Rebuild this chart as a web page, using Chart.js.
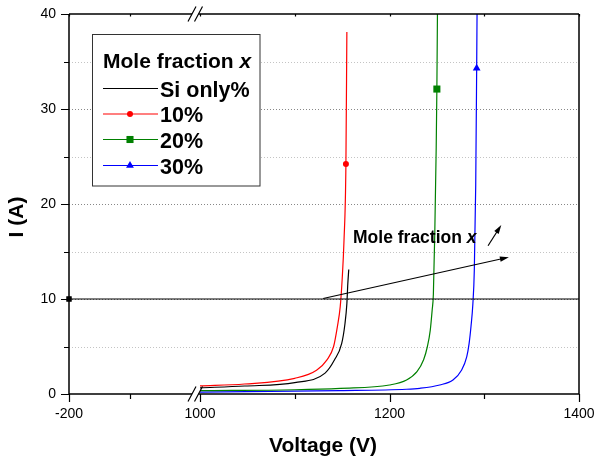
<!DOCTYPE html>
<html>
<head>
<meta charset="utf-8">
<script src="https://cdn.jsdelivr.net/npm/chart.js@4.4.0/dist/chart.umd.min.js"></script>
<style>
  html, body { margin: 0; padding: 0; background: #fff; }
</style>
</head>
<body>
<canvas id="chart" width="596" height="462"></canvas>
<script>
// Curves (Voltage in V, current in A)
const siVoltage = [1000, 1047, 1100, 1132, 1142, 1149.5, 1153, 1155, 1156, 1157];
const siCurrent = [0.65, 0.84, 1.2, 2.2, 3.6, 5.3, 7.4, 9.5, 11.6, 13.1];

const x10Voltage = [1000, 1047, 1100, 1123, 1134, 1141, 1145, 1148, 1150, 1152, 1154, 1155];
const x10Current = [0.85, 1.05, 1.65, 2.5, 3.6, 5.0, 7.1, 9.2, 12.0, 16.2, 24.2, 38.1];

const x20Voltage = [1000, 1100, 1148, 1200, 1218, 1229, 1236, 1240, 1243, 1245, 1246.3, 1247.8, 1249.3, 1250, 1250.6];
const x20Current = [0.35, 0.45, 0.6, 0.95, 1.47, 2.35, 3.6, 5.0, 6.7, 8.8, 10.5, 17, 26, 32.1, 40];

const x30Voltage = [1000, 1148, 1218, 1232, 1253, 1267, 1276, 1281.5, 1284, 1286, 1288, 1289.5, 1291, 1292, 1292.4];
const x30Current = [0.2, 0.35, 0.5, 0.6, 0.95, 1.47, 2.5, 3.9, 5.3, 7.1, 9.5, 13, 22, 34.3, 40];

// one symbol per curve
const markerVoltage = [1154, 1250, 1292];
const markerCurrent = [24.2, 32.1, 34.3];

// horizontal line at 10 A
const refVoltage = [-200, 1400];
const refCurrent = [10, 10];

// axis: broken between 0 and 1000
const xLeftSegment = [-200, 0];
const xRightSegment = [1000, 1400];
const xTickValues = [-200, -100, 1000, 1100, 1200, 1300, 1400];
const xTickLabels = [-200, 1000, 1200, 1400];
const yGridValues = [5, 10, 15, 20, 25, 30, 35];

// annotation arrow (start/end in data units)
const trendArrow = [[1130, 10.05], [1326, 14.4]];
const smallArrow = [[1304, 15.6], [1318, 17.8]];
const noteAnchor = [1161.5, 15.9];

const seriesNames = ['Si only%', '10%', '20%', '30%'];
const seriesColors = ['#000000', '#ff0000', '#008000', '#0000ff'];
const seriesSymbols = [null, 'circle', 'rect', 'triangle'];
const symbolSizes = [0, 3, 5, 4.5];

const FONT = "'Liberation Sans', Arial, sans-serif";

// fraction of the axis taken by each part of the broken axis
const LEFT_END = 122 / 510;
const RIGHT_START = 131 / 510;

class BrokenLinearScale extends Chart.LinearScale {
    toDecimal(v) {
        const [a0, a1] = xLeftSegment;
        const [b0, b1] = xRightSegment;
        if (v <= a1) return (v - a0) / (a1 - a0) * LEFT_END;
        if (v >= b0) return RIGHT_START + (v - b0) / (b1 - b0) * (1 - RIGHT_START);
        return LEFT_END + (v - a1) / (b0 - a1) * (RIGHT_START - LEFT_END);
    }
    getPixelForValue(value) {
        return this.getPixelForDecimal(this.toDecimal(value));
    }
    getValueForPixel(pixel) {
        const d = this.getDecimalForPixel(pixel);
        const [a0, a1] = xLeftSegment;
        const [b0, b1] = xRightSegment;
        if (d <= LEFT_END) return a0 + d / LEFT_END * (a1 - a0);
        if (d >= RIGHT_START) return b0 + (d - RIGHT_START) / (1 - RIGHT_START) * (b1 - b0);
        return a1 + (d - LEFT_END) / (RIGHT_START - LEFT_END) * (b0 - a1);
    }
}
BrokenLinearScale.id = 'brokenLinear';
BrokenLinearScale.defaults = Chart.LinearScale.defaults;
Chart.register(BrokenLinearScale);

function points(xs, ys) {
    return xs.map((x, i) => ({ x: x, y: ys[i] }));
}

function curve(label, xs, ys, color) {
    return {
        label: label,
        data: points(xs, ys),
        borderColor: color,
        backgroundColor: color,
        borderWidth: 1.2,
        pointRadius: 0,
        cubicInterpolationMode: 'monotone',
        fill: false
    };
}

const datasets = [
    {
        label: 'ref',
        data: points(refVoltage, refCurrent),
        borderColor: '#000',
        backgroundColor: '#000',
        borderWidth: 1.2,
        pointStyle: 'rect',
        pointRadius: [3, 0],
        clip: false
    },
    curve(seriesNames[0], siVoltage, siCurrent, seriesColors[0]),
    curve(seriesNames[1], x10Voltage, x10Current, seriesColors[1]),
    curve(seriesNames[2], x20Voltage, x20Current, seriesColors[2]),
    curve(seriesNames[3], x30Voltage, x30Current, seriesColors[3])
];

markerVoltage.forEach((v, i) => {
    datasets.push({
        label: seriesNames[i + 1] + ' marker',
        data: [{ x: v, y: markerCurrent[i] }],
        showLine: false,
        pointStyle: seriesSymbols[i + 1],
        pointRadius: symbolSizes[i + 1],
        borderWidth: 0,
        backgroundColor: seriesColors[i + 1],
        borderColor: seriesColors[i + 1],
        clip: false
    });
});

function arrow(ctx, x1, y1, x2, y2) {
    const ang = Math.atan2(y2 - y1, x2 - x1);
    const len = 9, half = 2.6;
    ctx.beginPath();
    ctx.moveTo(x1, y1);
    ctx.lineTo(x2 - Math.cos(ang) * len * 0.8, y2 - Math.sin(ang) * len * 0.8);
    ctx.stroke();
    ctx.beginPath();
    ctx.moveTo(x2, y2);
    ctx.lineTo(x2 - Math.cos(ang) * len - Math.sin(ang) * half, y2 - Math.sin(ang) * len + Math.cos(ang) * half);
    ctx.lineTo(x2 - Math.cos(ang) * len + Math.sin(ang) * half, y2 - Math.sin(ang) * len - Math.cos(ang) * half);
    ctx.closePath();
    ctx.fill();
}

function boldWithItalicX(ctx, text, x, y, size) {
    ctx.font = 'bold ' + size + 'px ' + FONT;
    ctx.fillText(text, x, y);
    const w = ctx.measureText(text).width;
    ctx.font = 'italic bold ' + size + 'px ' + FONT;
    ctx.fillText('x', x + w, y);
}

const gridPlugin = {
    id: 'dottedGrid',
    beforeDatasetsDraw(chart) {
        const { ctx, chartArea, scales } = chart;
        ctx.save();
        ctx.lineWidth = 1;
        ctx.setLineDash([1, 2]);
        yGridValues.forEach(v => {
            const y = Math.round(scales.y.getPixelForValue(v)) + 0.5;
            ctx.strokeStyle = v % 10 === 0 ? '#888' : '#c4c4c4';
            ctx.beginPath();
            ctx.moveTo(chartArea.left, y);
            ctx.lineTo(chartArea.right, y);
            ctx.stroke();
        });
        ctx.restore();
    }
};

const framePlugin = {
    id: 'frame',
    afterDatasetsDraw(chart) {
        const { ctx, chartArea, scales } = chart;
        const { left, right, top, bottom } = chartArea;
        const xs = scales.x, ys = scales.y;
        const breakL = xs.getPixelForValue(xLeftSegment[1]) + 1;
        const breakR = xs.getPixelForValue(xRightSegment[0]) - 1.5;

        ctx.save();
        ctx.strokeStyle = '#000';
        ctx.fillStyle = '#000';
        ctx.lineWidth = 1.5;

        // axis lines
        ctx.beginPath();
        ctx.moveTo(left, top); ctx.lineTo(left, bottom);
        ctx.moveTo(right, top); ctx.lineTo(right, bottom);
        [top, bottom].forEach(y => {
            ctx.moveTo(left, y); ctx.lineTo(breakL, y);
            ctx.moveTo(breakR, y); ctx.lineTo(right, y);
        });
        ctx.stroke();

        // break marks
        ctx.lineWidth = 1.2;
        ctx.beginPath();
        [top, bottom].forEach(y => {
            [breakL, breakR].forEach(x => {
                ctx.moveTo(x - 4, y + 7.5);
                ctx.lineTo(x + 4, y - 7.5);
            });
        });
        ctx.stroke();

        // ticks
        ctx.lineWidth = 1.2;
        ctx.beginPath();
        xTickValues.forEach(v => {
            const x = Math.round(xs.getPixelForValue(v)) + 0.5;
            const len = xTickLabels.includes(v) ? 8 : 5;
            ctx.moveTo(x, bottom); ctx.lineTo(x, bottom + len);
            ctx.moveTo(x, top); ctx.lineTo(x, top + 2.5);
        });
        for (let v = 0; v <= 40; v += 5) {
            const y = Math.round(ys.getPixelForValue(v)) + 0.5;
            const len = v % 10 === 0 ? 8 : 5;
            ctx.moveTo(left, y); ctx.lineTo(left - len, y);
        }
        ctx.stroke();

        // arrows
        ctx.lineWidth = 1.2;
        [trendArrow, smallArrow].forEach(a => {
            arrow(ctx,
                xs.getPixelForValue(a[0][0]), ys.getPixelForValue(a[0][1]),
                xs.getPixelForValue(a[1][0]), ys.getPixelForValue(a[1][1]));
        });

        // annotation text
        ctx.textBaseline = 'alphabetic';
        ctx.textAlign = 'left';
        boldWithItalicX(ctx, 'Mole fraction ',
            xs.getPixelForValue(noteAnchor[0]), ys.getPixelForValue(noteAnchor[1]), 17.5);

        // legend box
        ctx.fillStyle = '#fff';
        ctx.fillRect(92.5, 34.5, 167.5, 151.5);
        ctx.strokeStyle = '#333';
        ctx.lineWidth = 1;
        ctx.strokeRect(92.5, 34.5, 167.5, 151.5);

        ctx.fillStyle = '#000';
        boldWithItalicX(ctx, 'Mole fraction ', 103, 68, 21);

        const rowLine = [88.5, 114, 139.5, 165.5];
        const rowText = [96.5, 122, 147.5, 173.5];
        seriesNames.forEach((name, i) => {
            ctx.strokeStyle = seriesColors[i];
            ctx.fillStyle = seriesColors[i];
            ctx.lineWidth = 1.2;
            ctx.beginPath();
            ctx.moveTo(103, rowLine[i]);
            ctx.lineTo(158, rowLine[i]);
            ctx.stroke();
            if (seriesSymbols[i]) {
                Chart.helpers.drawPoint(ctx, {
                    pointStyle: seriesSymbols[i],
                    radius: symbolSizes[i],
                    rotation: 0,
                    borderWidth: 0
                }, 130, rowLine[i]);
            }
            ctx.fillStyle = '#000';
            ctx.font = 'bold 21.5px ' + FONT;
            ctx.fillText(name, 160, rowText[i]);
        });

        // axis titles
        ctx.fillStyle = '#000';
        ctx.font = 'bold 21px ' + FONT;
        ctx.textAlign = 'center';
        ctx.fillText('Voltage (V)', (left + right) / 2 - 1, 452);
        ctx.save();
        ctx.translate(23, 217);
        ctx.rotate(-Math.PI / 2);
        ctx.fillText('I (A)', 0, 0);
        ctx.restore();

        ctx.restore();
    }
};

new Chart(document.getElementById('chart'), {
    type: 'line',
    data: { datasets: datasets },
    options: {
        responsive: false,
        animation: false,
        events: [],
        layout: { padding: { top: 14, right: 17, left: 0, bottom: 0 } },
        plugins: {
            legend: { display: false },
            tooltip: { enabled: false }
        },
        scales: {
            x: {
                type: 'brokenLinear',
                min: -200,
                max: 1400,
                afterFit: s => {
                    s.height = 68;
                    s.paddingLeft = 0;
                    s.paddingRight = 0;
                },
                afterBuildTicks: s => { s.ticks = xTickValues.map(v => ({ value: v })); },
                grid: { display: false, drawTicks: false },
                border: { display: false },
                ticks: {
                    autoSkip: false,
                    maxRotation: 0,
                    padding: 12,
                    color: '#000',
                    font: { family: FONT, size: 14 },
                    callback: v => xTickLabels.includes(v) ? String(v) : ''
                }
            },
            y: {
                type: 'linear',
                min: 0,
                max: 40,
                afterFit: s => {
                    s.width = 69;
                    s.paddingTop = 0;
                    s.paddingBottom = 0;
                },
                grid: { display: false, drawTicks: false },
                border: { display: false },
                ticks: {
                    stepSize: 5,
                    padding: 13,
                    color: '#000',
                    font: { family: FONT, size: 14 },
                    callback: v => v % 10 === 0 ? String(v) : ''
                }
            }
        }
    },
    plugins: [gridPlugin, framePlugin]
});
</script>
</body>
</html>
